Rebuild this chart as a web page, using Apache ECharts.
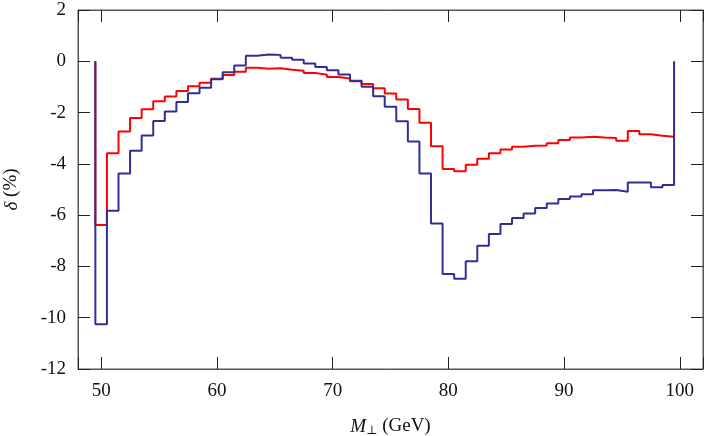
<!DOCTYPE html>
<html>
<head>
<meta charset="utf-8">
<style>
html, body { margin: 0; padding: 0; background: #fff; }
#chart { width: 705px; height: 436px; }
</style>
<script src="https://cdn.jsdelivr.net/npm/echarts@6/dist/echarts.min.js"></script>
</head>
<body>
<div id="chart"></div>
<script>
// bin centres (GeV), bins are 1 GeV wide
const binCenters = [50, 51, 52, 53, 54, 55, 56, 57, 58, 59,
  60, 61, 62, 63, 64, 65, 66, 67, 68, 69,
  70, 71, 72, 73, 74, 75, 76, 77, 78, 79,
  80, 81, 82, 83, 84, 85, 86, 87, 88, 89,
  90, 91, 92, 93, 94, 95, 96, 97, 98, 99];

// delta (%) for reconstructed e+
const recE = [-6.38, -3.59, -2.74, -2.21, -1.87, -1.56, -1.37, -1.16, -0.97, -0.84,
  -0.68, -0.53, -0.41, -0.25, -0.29, -0.27, -0.33, -0.37, -0.46, -0.52,
  -0.61, -0.67, -0.78, -0.89, -1.05, -1.26, -1.49, -1.86, -2.40, -3.31,
  -4.20, -4.29, -4.03, -3.80, -3.59, -3.44, -3.33, -3.29, -3.28, -3.20,
  -3.07, -2.97, -2.94, -2.97, -2.99, -3.10, -2.72, -2.85, -2.90, -2.94];

// delta (%) for mu+
const muPlus = [-10.25, -5.83, -4.38, -3.49, -2.89, -2.33, -1.96, -1.59, -1.25, -1.03,
  -0.70, -0.43, -0.16, 0.22, 0.26, 0.25, 0.14, 0.06, -0.09, -0.22,
  -0.35, -0.52, -0.76, -0.99, -1.36, -1.77, -2.34, -3.13, -4.38, -6.33,
  -8.30, -8.48, -7.80, -7.19, -6.74, -6.35, -6.11, -5.94, -5.72, -5.55,
  -5.37, -5.27, -5.19, -5.03, -5.02, -5.09, -4.73, -4.73, -4.91, -4.82];

// tick labels
const xTicks = [50, 60, 70, 80, 90, 100];

const X_MIN = 48, X_MAX = 102, Y_MIN = -12, Y_MAX = 2;

// histogram steps: each bin drawn from its lower edge to its upper edge
function histSteps(values, closeLeft, closeRight) {
  let pts = [];
  if (closeLeft) pts.push([binCenters[0] - 0.5, 0]);
  values.forEach((v, i) => { pts.push([binCenters[i] - 0.5, v]); });
  let last = values.length - 1;
  pts.push([binCenters[last] + 0.5, values[last]]);
  if (closeRight) pts.push([binCenters[last] + 0.5, 0]);
  return pts;
}

const FONT = "'Liberation Serif', 'DejaVu Serif', serif";
const RED = "#ff0000";
const BLUE = "#2f2f96";
const FRAME = "#555";
const TICK = "#222";

var myChart = echarts.init(document.getElementById("chart"));
let option = {
  animation: false,
  grid: {
    left: 78, right: 2, top: 10, bottom: 67,
    outerBoundsMode: "none",
    show: true, borderColor: FRAME
  },
  xAxis: [
    {
      type: "value", min: X_MIN, max: X_MAX,
      axisLine: { show: true, onZero: false, lineStyle: { color: FRAME } },
      splitLine: { show: false },
      axisTick: { show: true, inside: true, length: 12, lineStyle: { color: TICK } },
      axisLabel: { customValues: xTicks, fontFamily: FONT, fontSize: 19, color: "#111", margin: 13 },
      name: "{i|M}{sub|⊥} (GeV)",
      nameLocation: "middle",
      nameGap: 47,
      nameTextStyle: {
        fontFamily: FONT, fontSize: 19, color: "#111",
        rich: {
          i: { fontFamily: FONT, fontSize: 19, fontStyle: "italic", color: "#111" },
          sub: { fontFamily: "'DejaVu Serif', serif", fontSize: 12, color: "#111", padding: [9, 0, 0, 0] }
        }
      }
    },
    {
      type: "value", min: X_MIN, max: X_MAX, position: "top",
      axisLine: { show: true, onZero: false, lineStyle: { color: FRAME } },
      splitLine: { show: false },
      axisTick: { show: true, inside: true, length: 12, lineStyle: { color: TICK } },
      axisLabel: { show: true, customValues: xTicks, color: "rgba(0,0,0,0)" }
    }
  ],
  yAxis: [
    {
      type: "value", min: Y_MIN, max: Y_MAX, interval: 2,
      axisLine: { show: true, onZero: false, lineStyle: { color: FRAME } },
      splitLine: { show: false },
      axisTick: { show: true, inside: true, length: 12, lineStyle: { color: TICK } },
      axisLabel: { fontFamily: FONT, fontSize: 19, color: "#111", margin: 12 },
      name: "{i|δ} (%)",
      nameLocation: "middle",
      nameGap: 57,
      nameTextStyle: {
        fontFamily: FONT, fontSize: 19, color: "#111",
        rich: {
          i: { fontFamily: FONT, fontSize: 19, fontStyle: "italic", color: "#111" }
        }
      }
    },
    {
      type: "value", min: Y_MIN, max: Y_MAX, interval: 2, position: "right",
      axisLine: { show: true, onZero: false, lineStyle: { color: FRAME } },
      splitLine: { show: false },
      axisTick: { show: true, inside: true, length: 12, lineStyle: { color: TICK } },
      axisLabel: { show: true, color: "rgba(0,0,0,0)" }
    }
  ],
  series: [
    {
      name: "rec",
      type: "line",
      step: "end",
      symbol: "none",
      data: histSteps(recE, true, false),
      lineStyle: { color: RED, width: 2 },
      itemStyle: { color: RED }
    },
    {
      name: "mu",
      type: "line",
      step: "end",
      symbol: "none",
      data: histSteps(muPlus, true, true),
      lineStyle: { color: BLUE, width: 2 },
      itemStyle: { color: BLUE }
    }
  ]
};
myChart.setOption(option);
</script>
</body>
</html>
